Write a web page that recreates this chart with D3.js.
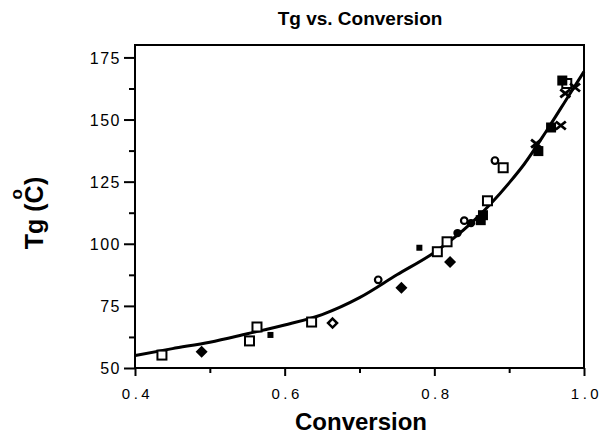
<!DOCTYPE html>
<html>
<head>
<meta charset="utf-8">
<script src="https://cdn.jsdelivr.net/npm/d3@7"></script>
<style>
  html, body { margin: 0; padding: 0; background: #fff; }
  svg { display: block; }
  text { font-family: "Liberation Sans", Arial, Helvetica, sans-serif; fill: #000; }
</style>
</head>
<body>
<svg id="chart" width="601" height="436"></svg>
<script>
// Fitted Tg curve (conversion, Tg)
const curveConv = [0.40, 0.45, 0.50, 0.55, 0.60, 0.65, 0.70, 0.75, 0.80, 0.85, 0.90, 0.92, 0.95, 0.98, 1.00];
const curveTg   = [55.0, 57.8, 60.4, 63.8, 67.3, 71.5, 78.3, 87.5, 96.5, 108.5, 124.5, 132.0, 145.5, 159.8, 169.3];

// Measured points, grouped by marker style: [conversion, Tg]
const openSquares = [[0.436, 55.2], [0.553, 60.9], [0.563, 66.5], [0.636, 68.5], [0.804, 96.8],
                     [0.817, 100.8], [0.871, 117.3], [0.892, 130.6], [0.977, 164.5]];
const filledDiamonds = [[0.489, 56.5], [0.756, 82.3], [0.821, 92.7]];
const smallSquares = [[0.581, 63.3], [0.780, 98.4]];
const openDiamonds = [[0.664, 68.1]];
const openCircles = [[0.725, 85.5], [0.840, 109.3], [0.881, 133.5]];
const filledCircles = [[0.831, 104.3], [0.849, 108.3]];
const filledSquares = [[0.862, 109.5], [0.865, 111.5], [0.939, 137.3], [0.956, 146.8], [0.971, 165.7]];
const crosses = [[0.936, 140.3], [0.969, 147.6], [0.988, 162.9], [0.975, 160.5]];

const xTicks = [0.4, 0.6, 0.8, 1.0];
const xMinor = [0.5, 0.7, 0.9];
const yTicks = [50, 75, 100, 125, 150, 175];
const yMinor = [62.5, 87.5, 112.5, 137.5, 162.5];

const svg = d3.select("#chart");
const x = d3.scaleLinear().domain([0.4, 1.0]).range([135, 584]);
const y = d3.scaleLinear().domain([50, 180]).range([368, 45]);

// Frame
const g = svg.append("g");
g.append("rect")
  .attr("x", x(0.4)).attr("y", y(180))
  .attr("width", x(1.0) - x(0.4)).attr("height", y(50) - y(180))
  .attr("fill", "none").attr("stroke", "#000").attr("stroke-width", 2);

// Y axis
const yAxis = d3.axisLeft(y).tickValues(yTicks).tickSize(11).tickPadding(3).tickFormat(d3.format("d"));
const ya = g.append("g").attr("transform", `translate(${x(0.4)},0)`).call(yAxis);
ya.select(".domain").remove();
ya.selectAll("line").attr("stroke", "#000").attr("stroke-width", 2);
ya.selectAll("text").style("font-size", "16px").style("letter-spacing", "1.5px").attr("dy", "0.36em");
const yMin = d3.axisLeft(y).tickValues(yMinor).tickSize(6).tickFormat("");
const ym = g.append("g").attr("transform", `translate(${x(0.4)},0)`).call(yMin);
ym.select(".domain").remove();
ym.selectAll("line").attr("stroke", "#000").attr("stroke-width", 2);

// X axis
const xAxis = d3.axisBottom(x).tickValues(xTicks).tickSize(8).tickPadding(12).tickFormat(d3.format(".1f"));
const xa = g.append("g").attr("transform", `translate(0,${y(50)})`).call(xAxis);
xa.select(".domain").remove();
xa.selectAll("line").attr("stroke", "#000").attr("stroke-width", 2);
xa.selectAll("text").style("font-size", "15px").style("letter-spacing", "3.5px").attr("dx", "2px");
const xMin = d3.axisBottom(x).tickValues(xMinor).tickSize(5).tickFormat("");
const xm = g.append("g").attr("transform", `translate(0,${y(50)})`).call(xMin);
xm.select(".domain").remove();
xm.selectAll("line").attr("stroke", "#000").attr("stroke-width", 2);

// Titles
svg.append("text").attr("x", 360).attr("y", 25).attr("text-anchor", "middle")
  .style("font-size", "19px").style("font-weight", "bold").text("Tg vs. Conversion");
svg.append("text").attr("x", 361).attr("y", 430).attr("text-anchor", "middle")
  .style("font-size", "24px").style("font-weight", "bold").text("Conversion");
const yt = svg.append("text").attr("transform", "translate(43,213) rotate(-90)")
  .attr("text-anchor", "middle").style("font-size", "25px").style("font-weight", "bold");
yt.append("tspan").text("Tg (");
yt.append("tspan").text("C");
yt.append("tspan").attr("dx", -14).attr("dy", -21).style("font-size", "17px").text("o");
yt.append("tspan").attr("dx", 4).attr("dy", 21).text(")");

// Fitted curve
const line = d3.line().x(d => x(d[0])).y(d => y(d[1])).curve(d3.curveMonotoneX);
svg.append("path").datum(d3.zip(curveConv, curveTg))
  .attr("d", line).attr("fill", "none").attr("stroke", "#000").attr("stroke-width", 3);

// Markers
const pts = svg.append("g");
function draw(data, fn) {
  data.forEach(d => fn(pts, x(d[0]), y(d[1])));
}
draw(openSquares, (s, cx, cy) => s.append("rect").attr("x", cx - 4.5).attr("y", cy - 4.5)
  .attr("width", 9).attr("height", 9).attr("fill", "#fff").attr("stroke", "#000").attr("stroke-width", 2));
draw(filledDiamonds, (s, cx, cy) => s.append("path")
  .attr("d", `M${cx},${cy - 6}L${cx + 6},${cy}L${cx},${cy + 6}L${cx - 6},${cy}Z`).attr("fill", "#000"));
draw(smallSquares, (s, cx, cy) => s.append("rect").attr("x", cx - 3).attr("y", cy - 3)
  .attr("width", 6).attr("height", 6).attr("fill", "#000"));
draw(openDiamonds, (s, cx, cy) => s.append("path")
  .attr("d", `M${cx},${cy - 4.5}L${cx + 4.5},${cy}L${cx},${cy + 4.5}L${cx - 4.5},${cy}Z`)
  .attr("fill", "#fff").attr("stroke", "#000").attr("stroke-width", 2.5));
draw(openCircles, (s, cx, cy) => s.append("circle").attr("cx", cx).attr("cy", cy).attr("r", 3.3)
  .attr("fill", "#fff").attr("stroke", "#000").attr("stroke-width", 2.2));
draw(filledCircles, (s, cx, cy) => s.append("circle").attr("cx", cx).attr("cy", cy).attr("r", 4.2).attr("fill", "#000"));
draw(filledSquares, (s, cx, cy) => s.append("rect").attr("x", cx - 5).attr("y", cy - 5)
  .attr("width", 10).attr("height", 10).attr("fill", "#000"));
draw(crosses, (s, cx, cy) => s.append("path")
  .attr("d", `M${cx - 5},${cy - 4}L${cx + 5},${cy + 4}M${cx - 5},${cy + 4}L${cx + 5},${cy - 4}`)
  .attr("stroke", "#000").attr("stroke-width", 2.8).attr("fill", "none"));
</script>
</body>
</html>
